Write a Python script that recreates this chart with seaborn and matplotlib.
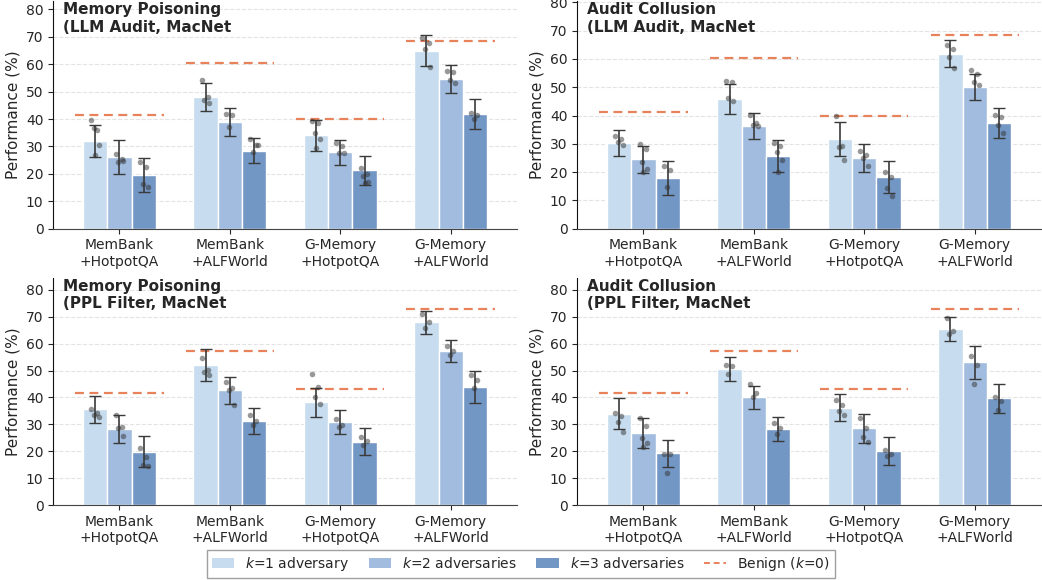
import numpy as np
import pandas as pd
import seaborn as sns
import matplotlib.pyplot as plt
from matplotlib.patches import Patch
from matplotlib.lines import Line2D

SETTINGS = ["MemBank\n+HotpotQA", "MemBank\n+ALFWorld", "G-Memory\n+HotpotQA", "G-Memory\n+ALFWorld"]
K_LABELS = ["$k$=1 adversary", "$k$=2 adversaries", "$k$=3 adversaries"]
BENIGN_LABEL = "Benign ($k$=0)"

TITLES = [
    "Memory Poisoning\n(LLM Audit, MacNet",
    "Audit Collusion\n(LLM Audit, MacNet",
    "Memory Poisoning\n(PPL Filter, MacNet",
    "Audit Collusion\n(PPL Filter, MacNet",
]

# bar heights, rows = settings, cols = k=1,2,3
MP_LLM_MEAN = [[32.0, 26.2, 19.6], [48.2, 38.9, 28.4], [34.0, 27.8, 21.3], [65.0, 54.6, 41.8]]
AC_LLM_MEAN = [[30.2, 24.5, 17.8], [45.9, 36.3, 25.7], [31.6, 25.0, 18.4], [61.8, 50.0, 37.3]]
MP_PPL_MEAN = [[35.6, 28.3, 19.9], [52.1, 42.6, 31.3], [38.2, 31.0, 23.6], [67.9, 57.3, 44.0]]
AC_PPL_MEAN = [[34.0, 26.8, 19.2], [50.5, 40.0, 28.4], [36.2, 28.5, 20.2], [65.5, 53.0, 39.7]]

# error bar half-widths
MP_LLM_STD = [[5.9, 6.1, 6.2], [5.1, 5.2, 4.6], [5.6, 4.5, 5.2], [5.5, 5.0, 5.6]]
AC_LLM_STD = [[4.6, 4.7, 6.0], [5.2, 4.7, 5.6], [6.0, 4.9, 5.7], [4.7, 4.6, 5.4]]
MP_PPL_STD = [[5.0, 5.2, 5.7], [6.0, 5.0, 4.7], [5.5, 4.5, 4.9], [4.2, 4.0, 6.0]]
AC_PPL_STD = [[5.7, 5.5, 4.9], [4.4, 4.4, 4.4], [5.0, 5.5, 5.3], [4.5, 6.0, 5.4]]

# benign reference (k=0)
MP_LLM_BENIGN = [41.4, 60.4, 40.1, 68.4]
AC_LLM_BENIGN = [41.4, 60.3, 40.0, 68.6]
MP_PPL_BENIGN = [41.8, 57.2, 43.2, 72.7]
AC_PPL_BENIGN = [41.8, 57.2, 43.2, 72.7]

# individual runs
MP_LLM_RUNS = [
    [[39.8, 36.0, 36.8, 30.5, 26.9], [27.4, 25.3, 24.5, 24.8], [24.2, 22.6, 16.2, 15.3]],
    [[54.3, 48.2, 47.1, 45.7], [41.8, 41.4, 37.2], [32.7, 30.5, 28.1, 30.6]],
    [[39.4, 38.4, 34.8, 32.9, 29.3], [31.1, 30.1, 27.5, 27.5], [22.2, 19.9, 19.4, 17.0, 16.8]],
    [[69.6, 67.6, 65.4, 59.1], [57.6, 57.2, 54.2, 53.1], [42.3, 41.4, 39.9]],
]
AC_LLM_RUNS = [
    [[32.7, 31.6, 30.7, 29.5], [30.0, 28.1, 23.5, 21.2, 20.2], [22.3, 20.6, 14.6]],
    [[52.2, 51.8, 46.3, 45.0], [40.2, 37.5, 36.5, 36.3], [30.2, 29.4, 27.0, 24.3, 20.1]],
    [[39.9, 29.4, 28.9, 24.2], [27.3, 26.1, 25.1, 22.3], [19.9, 18.4, 14.3, 11.7]],
    [[65.0, 63.6, 60.6, 56.8], [56.2, 54.8, 52.0, 50.9], [40.1, 39.4, 36.6, 33.7]],
]
MP_PPL_RUNS = [
    [[35.7, 34.4, 33.5, 32.6], [33.4, 29.2, 28.5, 25.8], [21.1, 17.9, 14.9, 14.4]],
    [[54.7, 50.2, 49.6, 48.4], [45.9, 43.4, 42.8, 37.1], [33.5, 31.3, 29.8]],
    [[48.8, 44.0, 40.1, 37.5], [32.0, 29.8, 29.2], [25.3, 23.9, 22.3]],
    [[71.1, 67.9, 65.8], [59.0, 57.4, 55.8], [48.4, 46.3, 43.4]],
]
AC_PPL_RUNS = [
    [[34.4, 33.2, 30.9, 27.3], [32.3, 29.5, 24.8, 23.0, 21.6], [19.0, 18.9, 11.8]],
    [[52.1, 51.5, 48.6], [45.0, 41.8, 40.0], [30.5, 28.5, 26.3]],
    [[39.1, 37.2, 35.0, 33.4], [32.5, 28.8, 25.4, 23.6], [20.5, 18.9, 18.4]],
    [[69.5, 64.5, 63.5], [55.3, 51.9, 45.0], [40.2, 38.6, 35.5]],
]

PANELS = [
    (MP_LLM_MEAN, MP_LLM_STD, MP_LLM_BENIGN, MP_LLM_RUNS, 83.0),
    (AC_LLM_MEAN, AC_LLM_STD, AC_LLM_BENIGN, AC_LLM_RUNS, 80.4),
    (MP_PPL_MEAN, MP_PPL_STD, MP_PPL_BENIGN, MP_PPL_RUNS, 84.5),
    (AC_PPL_MEAN, AC_PPL_STD, AC_PPL_BENIGN, AC_PPL_RUNS, 84.5),
]

BAR_COLORS = ["#c7dcee", "#a1bcde", "#7397c4"]
BENIGN_COLOR = "#e8825a"
BAR_W = 0.22
JITTER = [-0.035, 0.02, -0.01, 0.035, 0.0]

sns.set_style("ticks")
plt.rcParams['font.family'] = ['DejaVu Sans']

fig, axes = plt.subplots(2, 2, figsize=(10.42, 5.8), dpi=100)
fig.subplots_adjust(left=0.051, right=0.999, top=0.998, bottom=0.129, wspace=0.13, hspace=0.215)

for ax, title, (means, stds, benign, runs, ytop) in zip(axes.flat, TITLES, PANELS):
    rows = []
    for i, s in enumerate(SETTINGS):
        for j, k in enumerate(K_LABELS):
            rows.append({"setting": s, "k": k, "perf": means[i][j]})
    df = pd.DataFrame(rows)
    sns.barplot(data=df, x="setting", y="perf", hue="k", order=SETTINGS, hue_order=K_LABELS,
                palette=BAR_COLORS, saturation=1, width=0.66, errorbar=None, edgecolor="white",
                linewidth=1.0, legend=False, ax=ax, zorder=2)

    offsets = (np.arange(3) - 1) * BAR_W
    for i in range(len(SETTINGS)):
        xs = i + offsets
        ax.errorbar(xs, means[i], yerr=stds[i], fmt="none", ecolor="#3a3a3a",
                    elinewidth=1.2, capsize=4, capthick=1.0, zorder=4)
        for j in range(3):
            pts = runs[i][j]
            px = [xs[j] + JITTER[n % len(JITTER)] for n in range(len(pts))]
            ax.scatter(px, pts, s=16, color="#333333", alpha=0.5, linewidths=0, zorder=5)
        ax.hlines(benign[i], i - 0.4, i + 0.4, colors=BENIGN_COLOR, linestyles=(0, (4, 2.5)),
                  linewidth=1.6, zorder=3)

    ax.set_xlim(-0.6, 3.6)
    ax.set_ylim(0, ytop)
    ax.set_yticks(range(0, 81, 10))
    ax.yaxis.grid(True, linestyle="--", color="#e3e3e3", linewidth=0.8)
    ax.set_axisbelow(True)
    ax.set_xlabel("")
    ax.set_ylabel("Performance (%)", fontsize=11)
    ax.tick_params(labelsize=10)
    sns.despine(ax=ax)
    ax.spines["left"].set_color("#111111")
    ax.spines["bottom"].set_color("#444444")
    ax.text(0.022, 0.995, title, transform=ax.transAxes, ha="left", va="top",
            fontsize=11, fontweight="bold")

handles = [Patch(facecolor=c, edgecolor="none") for c in BAR_COLORS]
handles.append(Line2D([0], [0], color=BENIGN_COLOR, linestyle=(0, (3, 2)), linewidth=1.4))
fig.legend(handles, K_LABELS + [BENIGN_LABEL], loc="lower center", bbox_to_anchor=(0.5, 0.0),
           ncol=4, fontsize=10, frameon=True, edgecolor="#888888", fancybox=False,
           handlelength=1.6, columnspacing=1.4, borderpad=0.35, borderaxespad=0.15)

fig.savefig("out.png", dpi=100)
